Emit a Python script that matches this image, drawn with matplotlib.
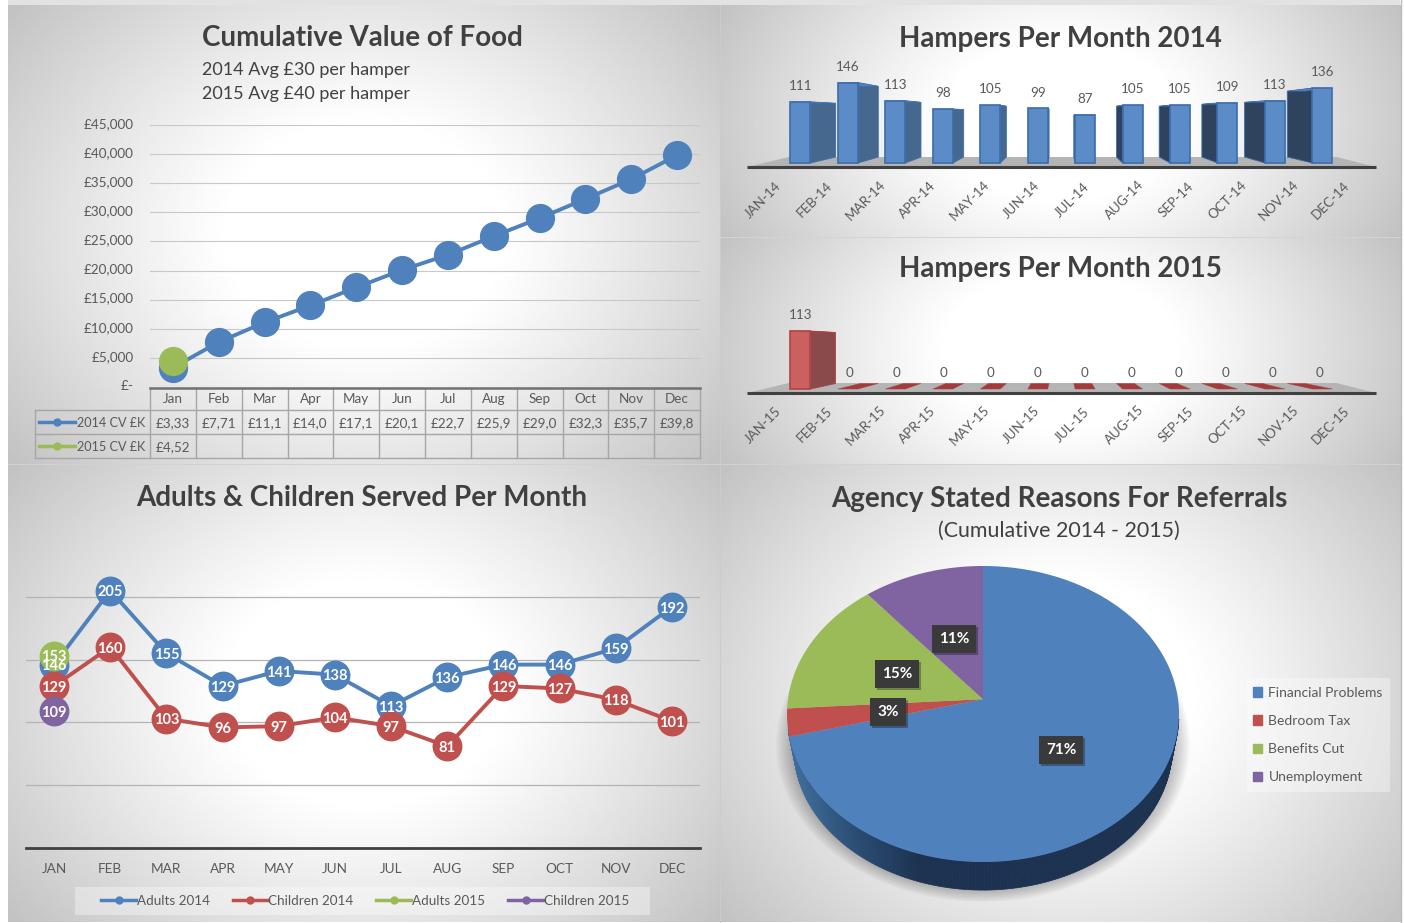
import numpy as np
import matplotlib
matplotlib.use('Agg')
import matplotlib.pyplot as plt
from matplotlib.collections import PolyCollection
from matplotlib.colors import LinearSegmentedColormap
from matplotlib.lines import Line2D
from matplotlib.patches import Patch, Rectangle
from matplotlib.transforms import ScaledTranslation

plt.rcParams['font.family'] = ['Lato', 'DejaVu Sans']

W, H = 1404, 923

months = ['Jan', 'Feb', 'Mar', 'Apr', 'May', 'Jun', 'Jul', 'Aug', 'Sep', 'Oct', 'Nov', 'Dec']
months_up = [m.upper() for m in months]

cv_2014 = [3330, 7710, 11100, 14000, 17100, 20100, 22700, 25900, 29000, 32300, 35700, 39800]
cv_2015 = [4520]
cv_ticks = [0, 5000, 10000, 15000, 20000, 25000, 30000, 35000, 40000, 45000]
cv_tick_labels = ['£-', '£5,000', '£10,000', '£15,000', '£20,000', '£25,000', '£30,000', '£35,000', '£40,000', '£45,000']
row_2014 = ['£3,33', '£7,71', '£11,1', '£14,0', '£17,1', '£20,1', '£22,7', '£25,9', '£29,0', '£32,3', '£35,7', '£39,8']
row_2015 = ['£4,52']

hampers_2014 = [111, 146, 113, 98, 105, 99, 87, 105, 105, 109, 113, 136]
hampers_2015 = [113, 0, 0, 0, 0, 0, 0, 0, 0, 0, 0, 0]

adults_2014 = [146, 205, 155, 129, 141, 138, 113, 136, 146, 146, 159, 192]
children_2014 = [129, 160, 103, 96, 97, 104, 97, 81, 129, 127, 118, 101]
adults_2015 = [153]
children_2015 = [109]

reasons = ['Financial Problems', 'Bedroom Tax', 'Benefits Cut', 'Unemployment']
reason_pct = [71, 3, 15, 11]

BLUE, RED, GREEN, PURPLE = '#4F81BD', '#C0504D', '#9BBB59', '#8064A2'
TITLE = '#404040'
LABEL = '#595959'


def px_axes(x0, y0, x1, y1, z=2):
    ax = fig.add_axes([x0 / W, 1 - y1 / H, (x1 - x0) / W, (y1 - y0) / H], zorder=z)
    ax.patch.set_alpha(0)
    return ax


def panel(x0, y0, x1, y1, ky=0.8):
    ax = px_axes(x0, y0, x1, y1, z=0)
    xx, yy = np.meshgrid(np.linspace(-1, 1, 300), np.linspace(-1, 1, 200))
    r = np.sqrt(xx ** 2 + (ky * yy) ** 2) / np.sqrt(1 + ky ** 2)
    t = np.clip((r - 0.3) / 0.7, 0, 1)
    ax.imshow(1 - 0.24 * t ** 1.1, cmap='gray', vmin=0, vmax=1, aspect='auto')
    ax.axis('off')


fig = plt.figure(figsize=(W / 100, H / 100), dpi=100, facecolor='white')

panel(8, 5, 720, 464)
panel(720, 5, 1400, 237, ky=0.5)
panel(720, 237, 1400, 464, ky=0.5)
panel(8, 464, 720, 922)
panel(720, 464, 1400, 922)

over = px_axes(0, 0, W, H, z=5)
over.set_xlim(0, W)
over.set_ylim(H, 0)
over.axis('off')
under = px_axes(0, 0, W, H, z=1)
under.set_xlim(0, W)
under.set_ylim(H, 0)
under.axis('off')
under.add_patch(Rectangle((8, 0), 1392, 5, color='#E2E2E2', lw=0))
under.axvline(1401, color='#BBBBBB', lw=1)
under.plot([8, 1400], [463.5, 463.5], color='#D2D2D2', lw=0.7)
under.plot([719.5, 719.5], [5, 922], color='#CCCCCC', lw=0.7)
under.plot([720, 1400], [236.5, 236.5], color='#D4D4D4', lw=0.7)
under.add_patch(Rectangle((75, 887), 575, 28, color='white', alpha=0.35, lw=0))
under.add_patch(Rectangle((1247, 678), 143, 114, color='white', alpha=0.35, lw=0))

title_kw = dict(fontsize=20, fontweight='bold', color=TITLE, va='center')
over.text(202, 38.5, 'Cumulative Value of Food', ha='left', **title_kw)
over.text(202, 69.5, '2014 Avg £30 per hamper', ha='left', va='center', fontsize=13, color=TITLE)
over.text(202, 93.5, '2015 Avg £40 per hamper', ha='left', va='center', fontsize=13, color=TITLE)
over.text(1060, 38.5, 'Hampers Per Month 2014', ha='center', **title_kw)
over.text(1060, 269.5, 'Hampers Per Month 2015', ha='center', **title_kw)
over.text(362, 498.5, 'Adults & Children Served Per Month', ha='center', **title_kw)
over.text(1059, 498.5, 'Agency Stated Reasons For Referrals', ha='center', **title_kw)
over.text(1059, 530.5, '(Cumulative 2014 - 2015)', ha='center', va='center', fontsize=15.4, color=TITLE)

# cumulative value line + data table
ax = px_axes(150, 125, 700, 387)
x = np.arange(12)
ax.plot(x, cv_2014, color=BLUE, lw=2.8, marker='o', ms=20, clip_on=False)
ax.plot(x[:1], cv_2015, color=GREEN, lw=2.8, marker='o', ms=20, clip_on=False)
ax.set_xlim(-0.5, 11.5)
ax.set_ylim(0, 45000)
ax.set_yticks(cv_ticks, cv_tick_labels)
ax.set_xticks([])
ax.tick_params(axis='y', length=0, pad=12, labelsize=9.7, labelcolor=LABEL)
up = ScaledTranslation(0, 1.5 / 72, fig.dpi_scale_trans)
for tl in ax.get_yticklabels():
    tl.set_transform(tl.get_transform() + up)
ax.grid(axis='y', color='#C8C8C8', lw=0.8)
ax.set_axisbelow(True)
for s in ax.spines.values():
    s.set_visible(False)

col_x = 150 + 550 / 12 * np.arange(13)
row_y = [388, 410, 434, 458]
grid = '#A6A6A6'
for cx in col_x:
    over.plot([cx, cx], [row_y[0], row_y[3]], color=grid, lw=1)
over.plot([35, 35], [row_y[1], row_y[3]], color=grid, lw=1)
for ry in row_y[1:]:
    over.plot([35, 700], [ry, ry], color=grid, lw=1)
over.plot([150, 700], [row_y[0], row_y[0]], color='#707070', lw=1.8)
for i, m in enumerate(months):
    cx = (col_x[i] + col_x[i + 1]) / 2
    over.text(cx, 399, m, ha='center', va='center', fontsize=9.7, color=LABEL)
    over.text(cx, 423, row_2014[i], ha='center', va='center', fontsize=9.7, color=LABEL)
    if i < len(row_2015):
        over.text(cx, 447, row_2015[i], ha='center', va='center', fontsize=9.7, color=LABEL)
for ry, col, lab in [(422, BLUE, '2014 CV £K'), (446, GREEN, '2015 CV £K')]:
    over.plot([39, 75], [ry, ry], color=col, lw=2.5)
    over.plot([57], [ry], color=col, marker='o', ms=5)
    over.text(77, ry + 1, lab, ha='left', va='center', fontsize=9.1, color=LABEL)


# fake 3d bars, depth goes towards a vanishing point
def bars_3d(ax, values, face, edge, side_l, side_r, cap):
    kx, ky, vx, vy = 0.1, 0.12, 5.5, 90
    hw = 10 / 47.45
    back = lambda px, py: (px + (vx - px) * kx, py + (vy - py) * ky)
    for i, v in enumerate(values):
        xl, xr = i - hw, i + hw
        xe = xr if i < 6 else xl
        bx0, by0 = back(xe, 0)
        bx1, by1 = back(xe, v)
        if v > 0:
            ax.fill([xe, bx0, bx1, xe], [0, by0, by1, v], color=side_r if i < 6 else side_l,
                    ec=edge, lw=0.6)
        cx0, cy = back(xl, v)
        cx1, cy = back(xr, v)
        ax.fill([xl, xr, cx1, cx0], [v, v, cy, cy], color=cap, ec=edge, lw=0.3)
        if v > 0:
            ax.bar(i, v, width=2 * hw, color=face, edgecolor=edge, lw=1.2)
            lx = i
        else:
            lx = 1.04 + (i - 1) * 47 / 47.45
        ax.annotate(str(v), (lx, v), xytext=(0, 11.5), textcoords='offset points',
                    ha='center', va='center', fontsize=9.7, color=LABEL)


def floor(ax, lo, hi):
    ax.fill([-1.127, 12.13, 11.3, -0.25], [lo, lo, hi, hi], color='#B4B4B4', lw=0)
    ax.plot([-1.127, 12.13], [lo, lo], color='#404040', lw=2.2, clip_on=False, solid_capstyle='butt')


ax = px_axes(747, 60, 1376, 170)
floor(ax, -7.3, 10.9)
bars_3d(ax, hampers_2014, '#5B8CC8', '#3A6DAB', '#2F435E', '#46688E', '#4F81BD')
ax.set_xlim(-1.127, 12.13)
ax.set_ylim(-12.7, 187)
ax.axis('off')

ax = px_axes(747, 300, 1376, 396)
floor(ax, -7.8, 11.7)
bars_3d(ax, hampers_2015, '#CC6060', '#AE4442', '#7E4648', '#8A4A4C', '#A33B3B')
ax.set_xlim(-1.127, 12.13)
ax.set_ylim(-13.6, 173.5)
ax.axis('off')

for i in range(12):
    lx = 763 + 51.6 * i
    over.text(lx, 200, f'{months_up[i]}-14', rotation=45, ha='center', va='center', fontsize=9.6, color=LABEL)
    over.text(lx, 425, f'{months_up[i]}-15', rotation=45, ha='center', va='center', fontsize=9.6, color=LABEL)

# adults and children lines
ax = px_axes(26, 534, 700, 848)
series = [(adults_2014, BLUE), (children_2014, RED), (adults_2015, GREEN), (children_2015, PURPLE)]
names = ['Adults 2014', 'Children 2014', 'Adults 2015', 'Children 2015']
for vals, col in series:
    ax.plot(x[:len(vals)], vals, color=col, lw=2.8, marker='o', ms=20.5, clip_on=False)
for vals, col in series:
    for i, v in enumerate(vals):
        ax.annotate(str(v), (i, v), xytext=(0, -1.2), textcoords='offset points', ha='center', va='center',
                    fontsize=10.5, fontweight='bold', color='white')
ax.set_xlim(-0.5, 11.5)
ax.set_ylim(0, 250)
ax.set_yticks([50, 100, 150, 200])
ax.set_xticks(x, months_up)
ax.tick_params(axis='y', length=0, labelleft=False)
ax.tick_params(axis='x', length=0, pad=11, labelsize=9.8, labelcolor=LABEL)
ax.grid(axis='y', color='#B4B4B4', lw=0.9)
ax.set_axisbelow(True)
for s in ['top', 'left', 'right']:
    ax.spines[s].set_visible(False)
ax.spines['bottom'].set_color('#404040')
ax.spines['bottom'].set_linewidth(2)
handles = [Line2D([], [], color=c, lw=2.5, marker='o', ms=5) for _, c in series]
leg = ax.legend(handles, names, loc='center', bbox_to_anchor=(365 / W, 1 - 901 / H),
                bbox_transform=fig.transFigure, ncol=4, frameon=False, fontsize=9.7,
                handlelength=2.6, handletextpad=0.05, columnspacing=1.7, labelcolor=LABEL)

# pie with fake perspective, a circle automorphism moves the centre up
ax = px_axes(760, 550, 1200, 910)
a, b, cy0 = 196, 148, 714
ax.set_xlim((760 - 983) / a, (1200 - 983) / a)
ax.set_ylim((cy0 - 910) / b, (cy0 - 550) / b)
ax.axis('off')
c = 0.10


def persp(ang):
    px, py = np.sin(ang), np.cos(ang)
    return px * np.sqrt(1 - c ** 2) / (1 + c * py), (py + c) / (1 + c * py)


t = np.radians(np.linspace(0, 360, 120))
for s in np.linspace(0.92, 1.0, 12):
    ax.fill(s * 207 / a * np.cos(t), (cy0 - 745) / b + s * 157 / b * np.sin(t),
            color='black', alpha=0.022, lw=0)

wall_cmap = LinearSegmentedColormap.from_list('wall', ['#41709F', '#2A4D74', '#1C3250', '#1C3250'])
t = np.radians(np.linspace(186, 358, 180))
top_x, top_y = np.cos(t), np.sin(t)
bot_x, bot_y = 0.965 * np.cos(t), (cy0 - 748) / b + 0.96 * np.sin(t)
quads = [[(top_x[i], top_y[i]), (top_x[i + 1], top_y[i + 1]), (bot_x[i + 1], bot_y[i + 1]), (bot_x[i], bot_y[i])]
         for i in range(len(t) - 1)]
wall_c = [wall_cmap(np.clip((q[0][0] + 1) / 1.0, 0, 1)) for q in quads]
ax.add_collection(PolyCollection(quads, facecolors=wall_c, edgecolors=wall_c, linewidths=0.5))

colours = [BLUE, RED, GREEN, PURPLE]
start = 0.0
for pct, col in zip(reason_pct, colours):
    # slices run clockwise from 12 o'clock
    ang = np.linspace(start, start + pct / sum(reason_pct), 120) * 2 * np.pi
    sx, sy = persp(ang)
    ax.fill(np.r_[0, sx], np.r_[c, sy], color=col, lw=0)
    start += pct / sum(reason_pct)

for lx, ly, lab in [(1061, 749, '71%'), (888, 711, '3%'), (897, 673, '15%'), (954, 638, '11%')]:
    over.text(lx + 2, ly + 3, lab, ha='center', va='center', fontsize=11, fontweight='bold', color='#00000000',
              bbox=dict(boxstyle='square,pad=0.45', fc='black', alpha=0.3, lw=0))
    over.text(lx, ly + 1, lab, ha='center', va='center', fontsize=11, fontweight='bold', color='white',
              bbox=dict(boxstyle='square,pad=0.45', fc='#3A3A3A', lw=0))

leg = ax.legend([Patch(color=col) for col in colours], reasons, loc='center',
                bbox_to_anchor=(1318 / W, 1 - 735 / H), bbox_transform=fig.transFigure,
                frameon=False, fontsize=10, handlelength=0.65, handleheight=0.65, handletextpad=0.45,
                labelspacing=1.16, labelcolor=LABEL)

fig.savefig('out.png', dpi=100)
